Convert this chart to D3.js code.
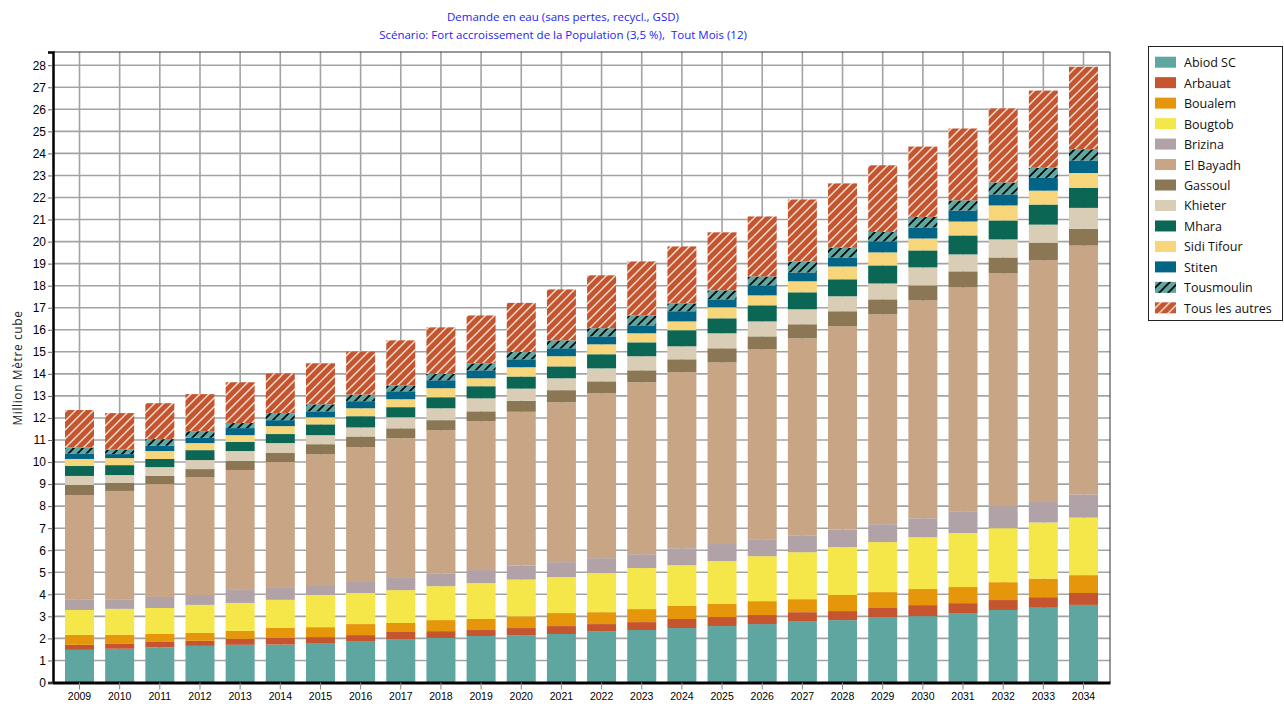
<!DOCTYPE html>
<html>
<head>
<meta charset="utf-8">
<script src="https://cdn.jsdelivr.net/npm/d3@7"></script>
<style>
  body { margin: 0; background: #fff; }
  svg { display: block; }
  .title { white-space: pre; }
</style>
</head>
<body>
<svg id="chart" width="1284" height="706"></svg>
<script>
const years = d3.range(2009, 2035).map(String);

const seriesNames = ['Abiod SC', 'Arbauat', 'Boualem', 'Bougtob', 'Brizina', 'El Bayadh',
  'Gassoul', 'Khieter', 'Mhara', 'Sidi Tifour', 'Stiten', 'Tousmoulin', 'Tous les autres'];

// million m3 per year, 2009 .. 2034
const abiodSC = [1.48, 1.53, 1.59, 1.66, 1.71, 1.72, 1.79, 1.88, 1.97, 2.02, 2.11, 2.15, 2.20, 2.33, 2.38, 2.47, 2.56, 2.65, 2.79, 2.83, 2.97, 3.01, 3.15, 3.29, 3.39, 3.52];
const arbauat = [0.23, 0.22, 0.25, 0.23, 0.27, 0.30, 0.27, 0.27, 0.32, 0.31, 0.27, 0.32, 0.36, 0.32, 0.36, 0.41, 0.41, 0.41, 0.40, 0.41, 0.41, 0.50, 0.45, 0.45, 0.48, 0.54];
const boualem = [0.45, 0.41, 0.37, 0.36, 0.36, 0.46, 0.45, 0.50, 0.41, 0.50, 0.50, 0.53, 0.59, 0.54, 0.59, 0.59, 0.59, 0.63, 0.59, 0.73, 0.72, 0.73, 0.73, 0.81, 0.84, 0.81];
const bougtob = [1.13, 1.18, 1.17, 1.27, 1.27, 1.27, 1.46, 1.41, 1.49, 1.54, 1.63, 1.67, 1.63, 1.77, 1.86, 1.85, 1.95, 2.04, 2.13, 2.17, 2.27, 2.35, 2.45, 2.45, 2.55, 2.61];
const brizina = [0.46, 0.41, 0.50, 0.45, 0.59, 0.54, 0.45, 0.54, 0.59, 0.56, 0.59, 0.63, 0.68, 0.68, 0.63, 0.77, 0.77, 0.77, 0.77, 0.80, 0.81, 0.86, 0.99, 1.00, 0.93, 1.05];
const elBayadh = [4.75, 4.94, 5.12, 5.35, 5.44, 5.71, 5.93, 6.07, 6.30, 6.51, 6.75, 6.98, 7.25, 7.48, 7.80, 7.98, 8.24, 8.61, 8.93, 9.22, 9.52, 9.88, 10.15, 10.56, 10.96, 11.29];
const gassoul = [0.46, 0.36, 0.37, 0.36, 0.41, 0.41, 0.46, 0.49, 0.45, 0.46, 0.45, 0.50, 0.55, 0.54, 0.54, 0.59, 0.64, 0.59, 0.64, 0.68, 0.68, 0.68, 0.73, 0.72, 0.80, 0.76];
const khieter = [0.41, 0.36, 0.40, 0.41, 0.45, 0.45, 0.41, 0.41, 0.50, 0.54, 0.59, 0.55, 0.54, 0.59, 0.64, 0.59, 0.68, 0.68, 0.68, 0.68, 0.72, 0.82, 0.77, 0.82, 0.82, 0.95];
const mhara = [0.45, 0.45, 0.37, 0.45, 0.41, 0.41, 0.49, 0.51, 0.46, 0.50, 0.55, 0.55, 0.54, 0.64, 0.63, 0.73, 0.68, 0.73, 0.77, 0.77, 0.82, 0.77, 0.86, 0.86, 0.91, 0.91];
const sidiTifour = [0.32, 0.32, 0.36, 0.32, 0.31, 0.36, 0.32, 0.36, 0.36, 0.41, 0.36, 0.42, 0.46, 0.45, 0.41, 0.40, 0.50, 0.45, 0.50, 0.58, 0.59, 0.54, 0.63, 0.68, 0.63, 0.67];
const stiten = [0.25, 0.18, 0.24, 0.24, 0.32, 0.27, 0.27, 0.32, 0.36, 0.36, 0.36, 0.36, 0.36, 0.36, 0.36, 0.46, 0.36, 0.45, 0.40, 0.41, 0.50, 0.50, 0.50, 0.50, 0.58, 0.57];
const tousmoulin = [0.27, 0.21, 0.30, 0.30, 0.23, 0.32, 0.32, 0.30, 0.27, 0.29, 0.32, 0.33, 0.36, 0.37, 0.45, 0.36, 0.41, 0.41, 0.50, 0.44, 0.43, 0.48, 0.46, 0.54, 0.46, 0.51];
const tousLesAutres = [1.70, 1.65, 1.63, 1.68, 1.85, 1.80, 1.86, 1.95, 2.04, 2.11, 2.17, 2.23, 2.31, 2.40, 2.45, 2.58, 2.63, 2.72, 2.81, 2.92, 3.02, 3.19, 3.26, 3.36, 3.50, 3.74];

const yTicks = d3.range(0, 29);

const seriesValues = [abiodSC, arbauat, boualem, bougtob, brizina, elBayadh, gassoul,
  khieter, mhara, sidiTifour, stiten, tousmoulin, tousLesAutres];

const config = {
  plot: { left: 53, right: 1110, top: 52, bottom: 682.5 },
  yMax: 28.6,
  colors: ['#5fa5a0', '#c5552f', '#e6960b', '#f5e64a', '#b0a2a6', '#c8a584',
    '#8b7753', '#d9cdb6', '#0b6753', '#f7d67b', '#036586', 'url(#hatchTeal)', 'url(#hatchRed)'],
  title: ['Demande en eau (sans pertes, recycl., GSD)',
    'Scénario: Fort accroissement de la Population (3,5 %),  Tout Mois (12)']
};

const svg = d3.select('#chart');
const { plot } = config;

// hatch patterns
const defs = svg.append('defs');
const addHatch = (id, bg, line, width) => {
  const p = defs.append('pattern')
    .attr('id', id)
    .attr('patternUnits', 'userSpaceOnUse')
    .attr('width', 9).attr('height', 9);
  p.append('rect').attr('width', 9).attr('height', 9).attr('fill', bg);
  p.append('path')
    .attr('d', 'M-2,2 L2,-2 M0,9 L9,0 M7,11 L11,7')
    .attr('stroke', line)
    .attr('stroke-width', width);
};
addHatch('hatchRed', '#c5552f', '#f6e3da', 1.4);
addHatch('hatchTeal', '#5fa5a0', '#000', 1.6);

const table = years.map((year, i) => {
  const row = { year };
  seriesNames.forEach((name, s) => { row[name] = seriesValues[s][i]; });
  return row;
});

const stacked = d3.stack().keys(seriesNames)(table);

const x = d3.scaleBand()
  .domain(years)
  .range([plot.left, plot.right])
  .paddingInner(0.278)
  .paddingOuter(0.299);

const y = d3.scaleLinear()
  .domain([0, config.yMax])
  .range([plot.bottom, plot.top]);

const color = d3.scaleOrdinal().domain(seriesNames).range(config.colors);

// grid
const grid = svg.append('g').attr('stroke', '#a3a3a3').attr('stroke-width', 1.6);
grid.selectAll('line.h')
  .data(yTicks.slice(1))
  .join('line')
  .attr('class', 'h')
  .attr('x1', plot.left).attr('x2', plot.right)
  .attr('y1', d => y(d)).attr('y2', d => y(d));
grid.selectAll('line.v')
  .data(years)
  .join('line')
  .attr('class', 'v')
  .attr('x1', d => x(d) + x.bandwidth() / 2).attr('x2', d => x(d) + x.bandwidth() / 2)
  .attr('y1', plot.top).attr('y2', plot.bottom);

// frame (top and right)
svg.append('path')
  .attr('d', `M${plot.left},${plot.top}H${plot.right}V${plot.bottom}`)
  .attr('fill', 'none')
  .attr('stroke', '#333')
  .attr('stroke-width', 1);

// bars
svg.append('g')
  .selectAll('g')
  .data(stacked)
  .join('g')
  .attr('fill', d => color(d.key))
  .selectAll('rect')
  .data(d => d)
  .join('rect')
  .attr('x', d => x(d.data.year))
  .attr('y', d => y(d[1]))
  .attr('width', x.bandwidth())
  .attr('height', d => y(d[0]) - y(d[1]));

// axes
const yAxis = svg.append('g')
  .attr('transform', `translate(${plot.left},0)`)
  .call(d3.axisLeft(y).tickValues(yTicks).tickSize(5).tickPadding(2).tickFormat(d3.format('d')));
yAxis.select('.domain').attr('stroke', '#000').attr('stroke-width', 2.5);
yAxis.selectAll('.tick line').attr('stroke', '#666');
yAxis.selectAll('text').attr('font-family', 'Liberation Sans, Arial, sans-serif').attr('font-size', 12).attr('fill', '#000');

const xAxis = svg.append('g')
  .attr('transform', `translate(0,${plot.bottom})`)
  .call(d3.axisBottom(x).tickSize(7).tickPadding(3).tickSizeOuter(0));
xAxis.select('.domain').attr('stroke', '#000').attr('stroke-width', 3);
xAxis.selectAll('.tick line').attr('stroke', '#888');
xAxis.selectAll('text').attr('font-family', 'Liberation Sans, Arial, sans-serif').attr('font-size', 10.5).attr('fill', '#000');

// y label
svg.append('text')
  .attr('transform', 'translate(22,368) rotate(-90)')
  .attr('text-anchor', 'middle')
  .attr('font-family', 'Open Sans, sans-serif')
  .attr('font-size', 12)
  .attr('letter-spacing', 0.6)
  .attr('fill', '#222')
  .text('Million Mètre cube');

// title
svg.append('g')
  .selectAll('text')
  .data(config.title)
  .join('text')
  .attr('class', 'title')
  .attr('x', 563)
  .attr('y', (d, i) => 21 + i * 18)
  .attr('text-anchor', 'middle')
  .attr('font-family', 'Open Sans, sans-serif')
  .attr('font-size', 11.5)
  .attr('fill', '#2424f5')
  .text(d => d);

// legend
const legend = svg.append('g');
legend.append('rect')
  .attr('x', 1148.5).attr('y', 46.5)
  .attr('width', 134).attr('height', 274)
  .attr('fill', '#fff').attr('stroke', '#222');
const items = legend.selectAll('g.item')
  .data(seriesNames)
  .join('g')
  .attr('class', 'item')
  .attr('transform', (d, i) => `translate(1155,${62.7 + i * 20.47})`);
items.append('rect')
  .attr('y', -6).attr('width', 21).attr('height', 11)
  .attr('fill', d => color(d));
items.append('text')
  .attr('x', 29).attr('y', 4.5)
  .attr('font-family', 'Open Sans, sans-serif')
  .attr('font-size', 12.5)
  .attr('fill', '#111')
  .text(d => d);
</script>
</body>
</html>
